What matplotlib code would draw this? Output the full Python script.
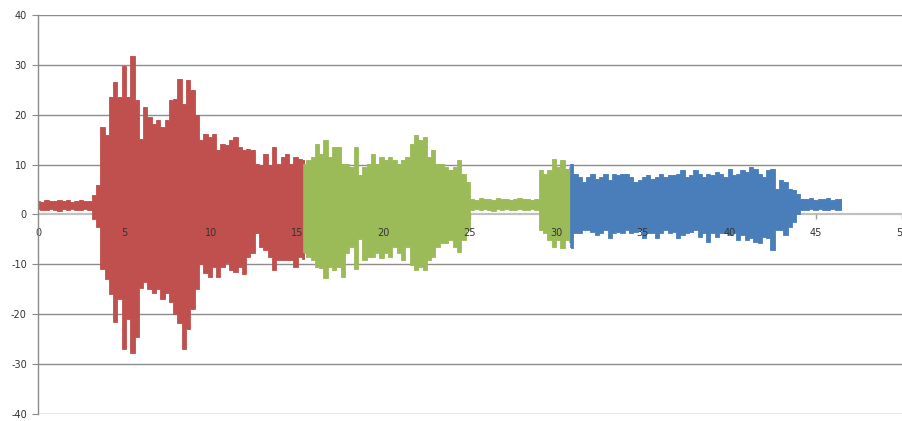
import matplotlib
matplotlib.use('Agg')
import matplotlib.pyplot as plt
import numpy as np

plt.rcParams['axes.unicode_minus'] = False
plt.rcParams['font.family'] = 'DejaVu Sans'

# Upper / lower extremes of the signal, sampled about every 0.25 s
red_span = (0.0, 15.4)
red_hi = [2.8, 2.6, 2.9, 2.7, 2.8, 3.0, 2.7, 2.9, 2.6, 2.8, 3.0, 2.7, 2.8,
          4.0, 6.0, 17.5, 16.0, 23.5, 26.5, 23.5, 29.7, 23.5, 31.7, 23.0,
          15.2, 21.5, 19.5, 18.2, 18.9, 17.5, 19.0, 22.9, 23.2, 27.2, 22.2,
          26.9, 24.9, 19.9, 14.9, 16.2, 15.5, 16.2, 12.9, 14.2, 13.9, 14.9,
          15.5, 13.5, 12.9, 13.2, 12.9, 10.2, 9.9, 12.2, 9.9, 13.5, 10.2,
          11.5, 12.2, 10.2, 11.5, 11.2, 11.0]
red_lo = [1.1, 1.0, 0.9, 1.2, 1.0, 0.8, 1.1, 0.9, 1.2, 1.0, 0.9, 1.1, 1.0,
          -1.0, -2.5, -11.0, -13.0, -16.0, -21.5, -17.0, -27.0, -21.0, -27.8,
          -24.5, -14.8, -13.5, -15.0, -15.8, -15.0, -17.0, -15.8, -17.5,
          -20.0, -21.8, -27.0, -23.0, -19.0, -15.0, -10.0, -11.8, -12.5,
          -10.5, -12.5, -10.5, -9.8, -11.1, -11.5, -10.5, -12.0, -8.5, -7.8,
          -3.8, -6.5, -7.1, -8.5, -11.1, -9.1, -9.1, -9.1, -9.1, -10.5,
          -8.5, -9.0]

green_span = (15.4, 30.85)
green_hi = [10.2, 10.9, 11.5, 14.2, 12.2, 14.9, 11.5, 13.5, 13.5, 10.2, 10.2,
            9.5, 13.5, 8.0, 9.5, 10.2, 12.2, 10.2, 11.5, 10.9, 11.5, 10.9,
            10.2, 10.9, 11.5, 14.2, 15.9, 14.9, 15.5, 11.5, 12.9, 10.2, 10.2,
            9.5, 8.9, 9.5, 10.9, 8.2, 6.5,
            3.2, 3.0, 3.3, 3.1, 3.2, 3.0, 3.3, 3.1, 3.2, 3.0, 3.2, 3.3, 3.1,
            3.2, 3.0, 3.2,
            8.9, 8.2, 8.9, 11.2, 9.5, 10.9, 9.2, 9.5]
green_lo = [-7.8, -8.5, -9.1, -10.5, -10.8, -12.8, -10.5, -11.1, -10.5, -12.5,
            -7.8, -6.5, -11.0, -5.0, -9.1, -8.5, -8.5, -7.8, -8.8, -7.8, -8.5,
            -6.5, -7.8, -9.1, -6.5, -10.1, -11.1, -10.5, -11.1, -9.1, -8.5,
            -6.5, -5.8, -5.8, -5.1, -6.5, -7.5, -5.1, -3.1,
            1.0, 1.2, 0.9, 1.1, 1.0, 0.8, 1.1, 1.0, 1.2, 0.9, 1.0, 1.1, 0.9,
            1.0, 1.2, 1.0,
            -3.1, -3.8, -5.1, -6.5, -5.1, -6.8, -5.1, -5.5]

blue_span = (30.85, 46.48)
blue_hi = [10.2, 8.2, 7.5, 6.5, 7.5, 8.2, 7.2, 7.5, 8.2, 6.9, 8.2, 7.9, 8.2,
           8.2, 7.5, 6.5, 6.9, 7.5, 7.9, 7.2, 7.5, 8.2, 7.5, 7.9, 7.9, 8.2,
           8.9, 7.5, 7.9, 8.9, 8.2, 7.5, 8.2, 7.9, 8.5, 8.2, 7.5, 9.2, 7.9,
           8.2, 8.9, 8.5, 9.5, 9.2, 8.2, 7.5, 8.9, 9.2, 5.2, 6.9, 6.5, 5.2,
           4.9, 4.2,
           3.2, 3.1, 3.3, 3.0, 3.2, 3.1, 3.3, 3.0, 3.2, 3.1]
blue_lo = [-6.8, -3.8, -3.8, -3.1, -3.1, -3.5, -4.1, -3.8, -3.1, -4.8, -3.8,
           -3.5, -3.8, -3.1, -3.8, -3.5, -3.1, -4.8, -3.8, -3.8, -4.8, -3.8,
           -3.1, -3.8, -3.5, -4.8, -4.1, -3.8, -3.5, -3.1, -4.5, -3.8, -5.5,
           -3.8, -4.5, -3.8, -3.8, -4.1, -3.8, -5.1, -4.1, -5.1, -4.8, -5.5,
           -5.8, -4.5, -4.8, -7.1, -3.1, -3.1, -4.1, -2.5, -1.5, 0.0,
           1.0, 0.9, 1.1, 1.0, 1.2, 0.9, 1.0, 1.1, 0.9, 1.0]

segments = [
    (red_span, red_hi, red_lo, '#C0504D'),
    (green_span, green_hi, green_lo, '#9BBB59'),
    (blue_span, blue_hi, blue_lo, '#4A7EBB'),
]

fig = plt.figure(figsize=(9.03, 4.21), dpi=100)
ax = fig.add_axes([38 / 903, 1 - 414 / 421, 864 / 903, 399 / 421])

for (x0, x1), hi, lo, col in segments:
    t = np.linspace(x0, x1, len(hi))
    ax.fill_between(t, lo, hi, step='mid', color=col, lw=0.6,
                    edgecolor=col, zorder=1)
    # thin peak-to-trough strokes give the trace its spiky edge
    ax.vlines(t, lo, hi, color=col, lw=1.2, zorder=1)

for yv in range(-40, 41, 10):
    if yv == 0:
        continue
    ax.axhline(yv, color='#8c8c8c', lw=1.0, zorder=0)
ax.axhline(0, color='#c0c0c0', lw=1.6, zorder=0.5)

ax.set_xlim(0, 50)
ax.set_ylim(-40, 40)
ax.set_xticks(range(0, 51, 5))
ax.set_yticks(range(-40, 41, 10))

for s in ('top', 'right', 'bottom'):
    ax.spines[s].set_visible(False)
ax.spines['left'].set_color('#8c8c8c')
ax.spines['left'].set_linewidth(1.0)

ax.tick_params(axis='x', direction='out', length=4, color='#8c8c8c',
               labelsize=7, labelcolor='#333333', pad=5.5)
ax.tick_params(axis='y', direction='out', length=4, color='#8c8c8c',
               labelsize=7, labelcolor='#333333', pad=4)
ax.set_xticklabels([str(v) for v in range(0, 51, 5)])
# x labels hang just under the zero line
for lbl in ax.get_xticklabels():
    lbl.set_y(0.5)
for tk in ax.xaxis.get_major_ticks():
    tk.tick1line.set_visible(False)
ax.vlines(range(5, 51, 5), -0.9, 0, color='#a0a0a0', lw=1, zorder=0.6)

fig.savefig('out.png', dpi=100)
